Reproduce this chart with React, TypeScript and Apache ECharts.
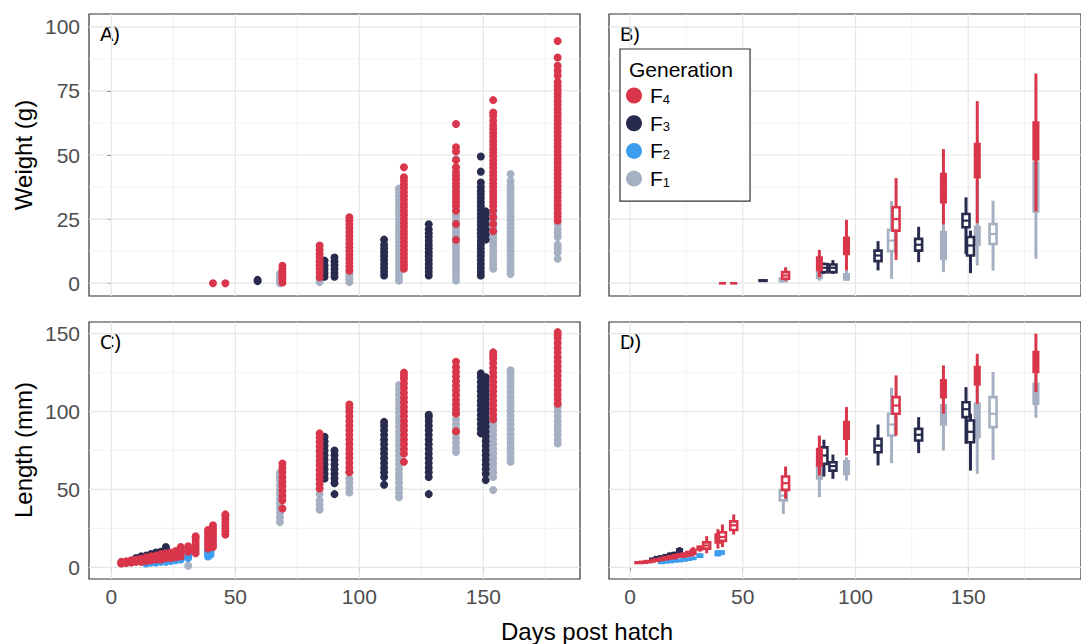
import React, { useEffect, useRef } from "react";
import * as echarts from "echarts";

// ---------- categories & styling keys ----------
const generations = ["F4", "F3", "F2", "F1"];
const drawOrder = ["F1", "F2", "F3", "F4"];
const genColors: Record<string, string> = {
  F4: "#d9364b",
  F3: "#282b4e",
  F2: "#3d9ef0",
  F1: "#a5b0c2",
};

// ---------- tick labels ----------
const dayTicks = [0, 50, 100, 150];
const dayMinor = [25, 75, 125, 175];
const weightTicks = [0, 25, 50, 75, 100];
const weightMinor = [12.5, 37.5, 62.5, 87.5];
const lengthTicks = [0, 50, 100, 150];
const lengthMinor = [25, 75, 125];

// ---------- Panel A: individual weights (g) by day ----------
const weightF4: [number, number[]][] = [
  [41, [0]],
  [46, [0]],
  [69, [0.3, 1.5, 2.5, 3.5, 4.5, 5.5, 6.8]],
  [84, [2.3, 4, 5.5, 7, 8.5, 10, 11.5, 13, 14.7]],
  [96, [4.9, 6.5, 8, 9.5, 11, 12.5, 14, 15.5, 17, 18.5, 20, 21.5, 23, 24.5, 25.7]],
  [118, [5.6, 7, 8.5, 10, 11.5, 13, 14.5, 16, 17.5, 19, 20.5, 22, 23.5, 25, 26.5, 28, 29.5, 31, 32.5, 34, 35.5, 37, 38.5, 40, 41.3, 45.2]],
  [139, [16.9, 23.1, 28.3, 30, 31.5, 33, 34.5, 36, 37.5, 39, 40.5, 42, 43.5, 45.2, 48, 51.4, 53, 62.1]],
  [154, [20.3, 23.1, 25.7, 28.3, 30, 31.5, 33, 34.5, 36, 37.5, 39, 40.5, 42, 43.5, 45, 46.5, 48, 49.5, 51, 52.5, 54, 55.5, 57, 58.5, 60, 61.5, 63.4, 65.3, 66.6, 71.4]],
  [180, [24.4, 26, 27.5, 29, 30.5, 32, 33.5, 35, 36.5, 38, 39.5, 41, 42.5, 44, 45.5, 47, 48.5, 50, 51.5, 53, 54.5, 56, 57.5, 59, 60.5, 62, 63.5, 65, 66.5, 68, 69.5, 71, 72.5, 74, 75.5, 77, 78.5, 81, 82.9, 84.8, 88, 94.5]],
];
const weightF3: [number, number[]][] = [
  [59, [0.8, 1.3]],
  [86, [2.5, 4, 5.5, 7, 8.8]],
  [90, [2.5, 4, 5.5, 7, 8.5, 10]],
  [110, [3, 4.5, 6, 7.5, 9, 10.5, 12, 13.5, 15, 17]],
  [128, [3, 4.5, 6, 7.5, 9, 10.5, 12, 13.5, 15, 16.5, 18, 19.5, 21, 23]],
  [149, [3, 4.5, 6, 7.5, 9, 10.5, 12, 13.5, 15, 16.5, 18, 19.5, 21, 22.5, 24, 25.5, 27, 28.5, 30, 31.5, 33, 34.5, 36, 37.5, 39.3, 43.5, 49.4]],
  [151, [17, 19, 21, 23, 25, 27, 28]],
];
const weightF1: [number, number[]][] = [
  [68, [0, 1, 2, 3, 3.7]],
  [84, [0.4, 1, 1.7]],
  [96, [0.4, 1.5, 2.5, 3.5, 4.9]],
  [116, [1, 2.5, 4, 5.5, 7, 8.5, 10, 11.5, 13, 14.5, 16, 17.5, 19, 20.5, 22, 23.5, 25, 26.5, 28, 29.5, 31, 32.5, 34, 35.5, 36.9]],
  [139, [1, 2.3, 4, 5.5, 7, 8.5, 10, 11.5, 13, 14.5, 16, 17.5, 19, 20.5, 22, 23.5, 25, 26.5, 28.3, 48.4]],
  [154, [5.6, 7, 8.5, 10, 11.5, 13, 14.5, 16, 17.5, 19, 20.5, 22, 23.5, 25, 26.5, 28.3]],
  [161, [3.6, 5, 6.5, 8, 9.5, 11, 12.5, 14, 15.5, 17, 18.5, 20, 21.5, 23, 24.5, 26, 27.5, 29, 30.5, 32, 33.5, 35, 36.5, 38, 40, 42.6]],
  [180, [9.5, 12, 13.5, 15, 18, 19.5, 21, 23]],
];

// ---------- Panel C: individual lengths (mm) by day ----------
const lengthF4: [number, number[]][] = [
  [4, [2.5, 3, 3.5]], [6, [2.8, 3.3, 3.8]], [8, [3, 3.5, 4, 4.5]], [10, [3.5, 4, 4.5, 5]],
  [12, [3.5, 4.5, 5, 5.5]], [14, [4, 5, 5.5, 6.5]], [16, [4.5, 5.5, 6.5, 7]], [18, [5, 6, 7, 7.5]],
  [20, [5, 6.5, 7.5, 8.5]], [22, [6, 7, 8, 9]], [24, [6, 7.5, 8.5, 9.5]], [26, [6.5, 8, 9.5, 10.5]],
  [28, [7, 9, 10.5, 12, 13]], [31, [10, 12, 13.5]], [34, [9, 11, 13, 15, 17, 19, 20]],
  [39, [12, 14, 16, 18, 20, 22, 24]], [41, [13, 15, 17, 19, 21, 23, 25, 27]],
  [46, [21, 23, 25, 27, 29, 31, 33, 34]],
  [69, [37.8, 43, 46, 49, 52, 55, 58, 61, 64, 66.7]],
  [84, [50.6, 53.5, 56.5, 59.5, 62.5, 65.5, 68.5, 71.5, 74.5, 77.5, 80.5, 83.5, 86]],
  [96, [61, 64, 67, 70, 73, 76, 79, 82, 85, 88, 91, 94, 97, 100, 102.5, 104.5]],
  [118, [67.7, 73, 76, 79, 82, 85, 88, 91, 94, 97, 100, 103, 106, 109, 112, 115, 118, 121, 123, 125]],
  [139, [87.4, 98.7, 101.5, 104.5, 107.5, 110.5, 113.5, 116.5, 119.5, 122.5, 125.5, 128.5, 132]],
  [154, [95, 98, 101, 104, 107, 110, 113, 116, 119, 122, 125, 128, 131, 134, 136, 138]],
  [180, [105, 108, 111, 114, 117, 120, 123, 126, 129, 132, 135, 138, 141, 144, 147, 149, 151]],
];
const lengthF3: [number, number[]][] = [
  [10, [4, 5, 6]], [12, [5, 6, 7]], [14, [5, 6.5, 7.5]], [16, [6, 7, 8.5]],
  [18, [6.5, 8, 9.5]], [20, [7, 8.5, 10]], [22, [8, 10, 12, 13]],
  [86, [57, 60, 63, 66, 69, 72, 75, 78, 81, 83.8]],
  [90, [47, 54, 57, 60, 63, 66, 69, 72, 75]],
  [110, [53, 58, 61, 64, 67, 70, 73, 76, 79, 82, 85, 88, 91, 93.4]],
  [128, [47, 58, 61, 64, 67, 70, 73, 76, 79, 82, 85, 88, 91, 94, 96.5, 98]],
  [149, [86, 89, 92, 95, 98, 101, 104, 107, 110, 113, 116, 119, 122, 124.5]],
  [151, [56, 60, 63, 66, 69, 72, 75, 78, 81, 84, 87, 90, 93, 96, 99, 102, 105, 108, 111, 114, 117, 120, 122]],
];
const lengthF2: [number, number[]][] = [
  [14, [2.5, 3.5]], [16, [3, 4]], [18, [3, 4.5]], [20, [3.5, 5]], [22, [3.5, 5]],
  [24, [4, 5.5]], [26, [4.5, 6]], [28, [5, 6.5]], [31, [6, 7.5, 9]],
  [39, [7, 8.5, 10, 11]], [40, [8, 9.5, 11]],
];
const lengthF1: [number, number[]][] = [
  [31, [1]],
  [68, [29, 32, 35, 38, 41, 44, 47, 50, 53, 56, 58.5, 60.7]],
  [84, [37, 40, 43, 47]],
  [96, [48, 51, 54, 57, 61]],
  [116, [45, 48, 51, 54, 57, 60, 63, 66, 69, 72, 75, 78, 81, 84, 87, 90, 93, 96, 99, 102, 105, 108, 111, 114, 117]],
  [139, [74, 77, 80, 83, 86, 89, 92, 95, 98.7]],
  [154, [49.6, 58, 61, 64, 67, 70, 73, 76, 79, 82, 85, 88, 91, 94]],
  [161, [67.7, 70.5, 73.5, 76.5, 79.5, 82.5, 85.5, 88.5, 91.5, 94.5, 97.5, 100.5, 103.5, 106.5, 109.5, 112.5, 115.5, 118.5, 121.5, 124.5, 126.5]],
  [180, [79.5, 82, 85, 88, 91, 94, 97, 100, 103, 105]],
];

// ---------- Panel B: weight summaries [day, min, q1, median, q3, max] ----------
const boxWeightF4 = [
  [41, 0, 0, 0, 0, 0], [46, 0, 0, 0, 0, 0], [69, 1, 1.7, 3, 4.3, 6.2],
  [84, 2.3, 5.2, 7.5, 10, 13], [96, 5, 11.4, 14.5, 17.7, 24.7],
  [118, 9.1, 20.5, 25, 29.6, 41], [139, 22.9, 31.6, 37, 42.6, 52.3],
  [154, 23.4, 41.3, 47, 54.3, 71], [180, 28, 48.4, 55, 62.7, 81.8],
];
const boxWeightF3 = [
  [59, 0.8, 0.9, 1, 1.1, 1.3], [86, 3.6, 4.3, 6, 7.5, 8], [90, 3.6, 4.3, 6, 7.3, 9],
  [110, 5, 8.6, 10.8, 12.7, 16.4], [128, 8.2, 12.7, 15, 17.3, 22],
  [149, 11.4, 21.8, 24.4, 27, 33.5], [151, 3.9, 10.8, 14.7, 18, 20.5],
];
const boxWeightF1 = [
  [68, 0.3, 0.8, 1.2, 1.8, 2.5], [84, 1, 2, 3, 4.5, 7.5], [96, 1, 1.5, 2.5, 3.5, 5],
  [116, 1.7, 12.5, 16.6, 20.8, 32], [139, 4.3, 9.5, 14.7, 19.9, 25],
  [154, 6.9, 15, 18, 22, 40], [161, 4.9, 15.3, 19.2, 23.1, 32.2], [180, 9.5, 28, 38, 47, 48],
];

// ---------- Panel D: length summaries [day, min, q1, median, q3, max] ----------
const boxLengthF4 = [
  [4, 2.5, 2.8, 3, 3.2, 3.5], [6, 2.8, 3, 3.2, 3.5, 3.8], [8, 3, 3.3, 3.6, 4, 4.4],
  [10, 3.4, 3.8, 4.2, 4.6, 5], [12, 3.6, 4.2, 4.8, 5.2, 5.6], [14, 4, 4.8, 5.3, 5.9, 6.6],
  [16, 4.5, 5.3, 5.9, 6.6, 7.2], [18, 5, 5.8, 6.5, 7.1, 7.6], [20, 5, 6.2, 7, 7.8, 8.6],
  [22, 6, 6.8, 7.6, 8.4, 9.2], [24, 6, 7.2, 8, 8.8, 9.6], [26, 6.5, 7.8, 8.8, 9.8, 10.6],
  [28, 7, 8.8, 10, 11.2, 13], [31, 10, 11.5, 12.5, 13.2, 14], [34, 9, 12, 14, 16, 20],
  [39, 12, 16, 18, 21, 24.5], [41, 13, 17, 19.5, 22.5, 27.5], [46, 21, 24, 27, 29.5, 34],
  [69, 44, 49.7, 54, 58.3, 64.7], [84, 59, 65.4, 70, 76, 84.6], [96, 71.8, 82.5, 88, 93.2, 102.9],
  [118, 84.6, 98.6, 103.9, 109.3, 123.2], [139, 98.6, 109.3, 115, 120, 129.6],
  [154, 105, 117.4, 123, 128.6, 137.1], [180, 112.5, 125.4, 132, 138.2, 150],
];
const boxLengthF3 = [
  [10, 4, 4.5, 5, 5.5, 6], [12, 5, 5.5, 6, 6.5, 7], [14, 5, 5.8, 6.5, 7, 7.5],
  [16, 6, 6.6, 7.2, 7.8, 8.5], [18, 6.5, 7.3, 8, 8.7, 9.5], [20, 7, 7.8, 8.5, 9.2, 10],
  [22, 8, 9.5, 10.5, 11.5, 13], [86, 58.3, 66.4, 71.8, 77, 81.9], [90, 56.8, 62.1, 65, 67.5, 72.4],
  [110, 65.4, 73.9, 78.2, 82.5, 91.7], [128, 73.3, 81.4, 85.1, 88.9, 96.4],
  [149, 79.3, 96.4, 101.5, 106, 115.7], [151, 62.1, 80.3, 87, 94.3, 98.6],
];
const boxLengthF2 = [
  [14, 2.5, 2.8, 3, 3.3, 3.5], [16, 3, 3.2, 3.5, 3.8, 4], [18, 3, 3.4, 3.8, 4.2, 4.5],
  [20, 3.5, 3.8, 4.2, 4.6, 5], [22, 3.5, 4, 4.3, 4.7, 5], [24, 4, 4.4, 4.8, 5.1, 5.5],
  [26, 4.5, 4.9, 5.2, 5.6, 6], [28, 5, 5.4, 5.8, 6.1, 6.5], [31, 6, 6.8, 7.5, 8.2, 9],
  [39, 7, 8, 9, 10, 11], [40, 8, 8.8, 9.5, 10.2, 11],
];
const boxLengthF1 = [
  [68, 34.3, 43, 46, 49.6, 50.6], [84, 45, 57, 62, 66, 72.8], [96, 55.7, 60, 64, 68, 70.7],
  [116, 66.9, 84.6, 91.7, 98.6, 115.3], [139, 75, 91.7, 98, 104, 107.1],
  [154, 60, 83.6, 94, 105, 115.7], [161, 69, 90, 98.6, 109.3, 125.4], [180, 96, 105, 112, 117.9, 124.3],
];

const FONT = "'Liberation Sans', Arial, sans-serif";

const flatten = (groups: [number, number[]][]) =>
  groups.flatMap(([d, vs]) => vs.map((v) => [d, v]));

export default function App() {
  const ref = useRef<HTMLDivElement>(null);

  useEffect(() => {
    if (!ref.current) return;
    const chart = echarts.init(ref.current, undefined, { renderer: "svg" });

    const grids = [
      { left: 89, top: 14, width: 491, height: 282 }, // A
      { left: 609, top: 14, width: 485, height: 282 }, // B
      { left: 89, top: 322, width: 491, height: 257 }, // C
      { left: 609, top: 322, width: 485, height: 257 }, // D
    ];
    const xRange = [
      [-9, 189],
      [-9.3, 200],
      [-9, 189],
      [-9.3, 200],
    ];
    const yRange = [
      [-5, 105],
      [-5, 105],
      [-7.5, 157.5],
      [-7.5, 157.5],
    ];
    const yTicksFor = [weightTicks, weightTicks, lengthTicks, lengthTicks];
    const yMinorFor = [weightMinor, weightMinor, lengthMinor, lengthMinor];

    const labelStyle = { fontSize: 21, color: "#4d4d4d", fontFamily: FONT };

    const xAxis = grids.map((_, i) => ({
      type: "value",
      gridIndex: i,
      min: xRange[i][0],
      max: xRange[i][1],
      axisLine: { show: false },
      splitLine: { show: false },
      axisTick: {
        show: i >= 2,
        customValues: dayTicks,
        length: 4,
        lineStyle: { color: "#333", width: 1 },
      },
      axisLabel: {
        show: i >= 2,
        customValues: dayTicks,
        margin: 7,
        ...labelStyle,
      },
    }));
    const yAxis = grids.map((_, i) => ({
      type: "value",
      gridIndex: i,
      min: yRange[i][0],
      max: yRange[i][1],
      axisLine: { show: false },
      splitLine: { show: false },
      axisTick: {
        show: i % 2 === 0,
        customValues: yTicksFor[i],
        length: 4,
        lineStyle: { color: "#333", width: 1 },
      },
      axisLabel: {
        show: i % 2 === 0,
        customValues: yTicksFor[i],
        margin: 9,
        ...labelStyle,
      },
    }));

    const series: any[] = [];

    // grid lines per panel, drawn through the axes
    grids.forEach((_, i) => {
      const data: number[][] = [];
      dayTicks.forEach((v) => data.push([0, v, 1]));
      dayMinor.forEach((v) => data.push([0, v, 0]));
      yTicksFor[i].forEach((v) => data.push([1, v, 1]));
      yMinorFor[i].forEach((v) => data.push([1, v, 0]));
      const [x0, x1] = xRange[i];
      const [y0, y1] = yRange[i];
      series.push({
        type: "custom",
        name: "grid" + i,
        xAxisIndex: i,
        yAxisIndex: i,
        silent: true,
        clip: false,
        z: 1,
        data,
        renderItem: (_p: any, api: any) => {
          const o = api.value(0);
          const v = api.value(1);
          const major = api.value(2) === 1;
          const a = o === 0 ? api.coord([v, y0]) : api.coord([x0, v]);
          const b = o === 0 ? api.coord([v, y1]) : api.coord([x1, v]);
          return {
            type: "line",
            shape: { x1: a[0], y1: a[1], x2: b[0], y2: b[1] },
            style: { stroke: major ? "#e6e6e6" : "#f0f0f0", lineWidth: major ? 1.2 : 0.8 },
          };
        },
      });
    });

    // scatter panels A (0) and C (2)
    const scatterData: Record<string, [number, number[]][]>[] = [
      { F4: weightF4, F3: weightF3, F1: weightF1 },
      { F4: lengthF4, F3: lengthF3, F2: lengthF2, F1: lengthF1 },
    ];
    [0, 2].forEach((gi, k) => {
      drawOrder.forEach((g) => {
        const src = scatterData[k][g];
        if (!src) return;
        series.push({
          type: "scatter",
          name: g,
          xAxisIndex: gi,
          yAxisIndex: gi,
          z: 3,
          symbol: "circle",
          symbolSize: 8,
          itemStyle: { color: genColors[g], opacity: 1 },
          data: flatten(src),
        });
      });
    });

    // box panels B (1) and D (3)
    const boxData: Record<string, number[][]>[] = [
      { F4: boxWeightF4, F3: boxWeightF3, F1: boxWeightF1 },
      { F4: boxLengthF4, F3: boxLengthF3, F2: boxLengthF2, F1: boxLengthF1 },
    ];
    [1, 3].forEach((gi, k) => {
      const count: Record<number, number> = {};
      Object.values(boxData[k]).forEach((arr) =>
        arr.forEach((r) => {
          count[r[0]] = (count[r[0]] || 0) + 1;
        })
      );
      drawOrder.forEach((g) => {
        const src = boxData[k][g];
        if (!src) return;
        const color = genColors[g];
        series.push({
          type: "custom",
          name: g,
          xAxisIndex: gi,
          yAxisIndex: gi,
          z: 3,
          itemStyle: { color },
          encode: { x: 0, y: [1, 2, 3, 4, 5] },
          data: src,
          renderItem: (_p: any, api: any) => {
            const day = api.value(0);
            const narrow = count[day] > 1;
            const w = narrow ? 4.5 : 7;
            const pMin = api.coord([day, api.value(1)]);
            const pQ1 = api.coord([day, api.value(2)]);
            const pMd = api.coord([day, api.value(3)]);
            const pQ3 = api.coord([day, api.value(4)]);
            const pMax = api.coord([day, api.value(5)]);
            const x = pMin[0];
            const children: any[] = [
              {
                type: "line",
                shape: { x1: x, y1: pMin[1], x2: x, y2: pMax[1] },
                style: { stroke: color, lineWidth: 3 },
              },
              {
                type: "rect",
                shape: { x: x - w / 2, y: pQ3[1], width: w, height: pQ1[1] - pQ3[1] },
                style: { fill: narrow ? color : "#fff", stroke: color, lineWidth: 2.6 },
              },
            ];
            if (!narrow) {
              children.push({
                type: "line",
                shape: { x1: x - w / 2, y1: pMd[1], x2: x + w / 2, y2: pMd[1] },
                style: { stroke: color, lineWidth: 2.2 },
              });
            }
            return { type: "group", children };
          },
        });
      });
    });

    const option: any = {
      animation: false,
      backgroundColor: "#fff",
      grid: grids.map((g) => ({
        ...g,
        show: true,
        borderColor: "#333",
        borderWidth: 1.2,
        backgroundColor: "transparent",
        containLabel: false,
      })),
      xAxis,
      yAxis,
      legend: {
        data: generations,
        orient: "vertical",
        left: 620,
        top: 49,
        padding: [36, 80, 12, 6],
        itemGap: 6.7,
        itemWidth: 22,
        itemHeight: 16,
        icon: "circle",
        selectedMode: false,
        backgroundColor: "#fff",
        borderColor: "#333",
        borderWidth: 1.2,
        borderRadius: 0,
        formatter: (name: string) => `{f|F}{s|${name.slice(1)}}`,
        textStyle: {
          fontFamily: FONT,
          color: "#000",
          rich: {
            f: { fontSize: 21, lineHeight: 20, fontFamily: FONT, color: "#000" },
            s: { fontSize: 13, lineHeight: 6, verticalAlign: "bottom", fontFamily: FONT, color: "#000" },
          },
        },
      },
      graphic: [
        {
          type: "text",
          x: 629,
          y: 69,
          z: 10,
          style: { text: "Generation", fontSize: 21, fontFamily: FONT, fill: "#000", textVerticalAlign: "middle" },
        },
        { type: "text", x: 100, y: 34, style: { text: "A)", fontSize: 20, fontFamily: FONT, fill: "#000", textVerticalAlign: "middle" } },
        { type: "text", x: 620, y: 34, style: { text: "B)", fontSize: 20, fontFamily: FONT, fill: "#000", textVerticalAlign: "middle" } },
        { type: "text", x: 100, y: 342, style: { text: "C)", fontSize: 20, fontFamily: FONT, fill: "#000", textVerticalAlign: "middle" } },
        { type: "text", x: 620, y: 342, style: { text: "D)", fontSize: 20, fontFamily: FONT, fill: "#000", textVerticalAlign: "middle" } },
        {
          type: "text",
          x: 23,
          y: 155,
          rotation: Math.PI / 2,
          style: { text: "Weight (g)", fontSize: 24, fontFamily: FONT, fill: "#000", textAlign: "center", textVerticalAlign: "middle" },
        },
        {
          type: "text",
          x: 23,
          y: 450,
          rotation: Math.PI / 2,
          style: { text: "Length (mm)", fontSize: 24, fontFamily: FONT, fill: "#000", textAlign: "center", textVerticalAlign: "middle" },
        },
        {
          type: "text",
          x: 587,
          y: 631,
          style: { text: "Days post hatch", fontSize: 24, fontFamily: FONT, fill: "#000", textAlign: "center", textVerticalAlign: "middle" },
        },
      ],
      series,
    };

    chart.setOption(option);
    return () => chart.dispose();
  }, []);

  return (
    <div
      ref={ref}
      style={{ position: "fixed", left: 0, top: 0, width: 1081, height: 644, background: "#fff" }}
    />
  );
}
